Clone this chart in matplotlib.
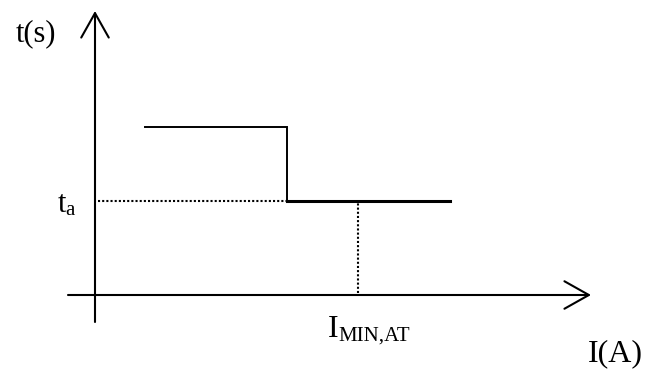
import matplotlib
matplotlib.use('Agg')
import matplotlib.pyplot as plt

# time-current characteristic (arbitrary units)
step_current = [0.50, 1.92, 1.92, 3.55]
step_time = [1.68, 1.68, 0.94, 0.94]
t_a = 0.94
i_min_at = 2.63

fig = plt.figure(figsize=(6.46, 3.69), dpi=100)
ax = fig.add_axes([0, 0, 1, 1])
ax.set_xlim(-0.95, 5.51)
ax.set_ylim(-0.74, 2.95)
ax.axis('off')

serif = 'Liberation Serif'

# axes with open arrowheads
arrow = dict(arrowstyle='->,head_length=0.8,head_width=0.45', lw=1.5,
             color='black', mutation_scale=22, shrinkA=0, shrinkB=0)
ax.annotate('', xy=(4.96, 0), xytext=(-0.27, 0), arrowprops=arrow)
ax.annotate('', xy=(0, 2.84), xytext=(0, -0.27), arrowprops=arrow)

# upper step and drop (thin), lower branch (thick)
ax.plot(step_current[:3], step_time[:3], color='black', lw=1.4,
        solid_joinstyle='miter')
ax.plot(step_current[2:], step_time[2:], color='black', lw=2.2)

# dotted guides for t_a and I_MIN,AT
ax.plot([0.03, step_current[1]], [t_a, t_a], color='black', lw=1.5,
        linestyle=(0, (1, 1)))
ax.plot([i_min_at, i_min_at], [0.02, t_a], color='black', lw=1.5,
        linestyle=(0, (1, 1)))

# axis labels
ax.text(-0.59, 2.61, 't(s)', fontsize=22, family=serif, ha='center', va='center')
ax.text(5.20, -0.59, 'I(A)', fontsize=23, family=serif, ha='center', va='center')

# t_a label: main letter plus subscript
ax.text(-0.37, 0.83, 't', fontsize=22, family=serif, ha='left', va='baseline')
ax.text(-0.295, 0.80, 'a', fontsize=15, family=serif, ha='left', va='baseline')

# I_MIN,AT label: main letter plus subscript
ax.text(2.33, -0.42, 'I', fontsize=23, family=serif, ha='left', va='baseline')
ax.text(2.43, -0.46, 'MIN,AT', fontsize=15, family=serif, ha='left', va='baseline')

fig.savefig('out.png', dpi=100, facecolor='white')
